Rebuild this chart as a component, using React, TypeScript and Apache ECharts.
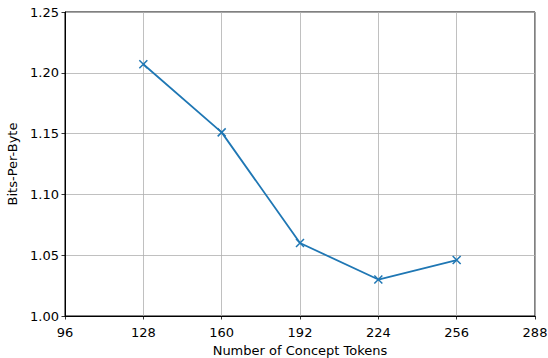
import React, { useEffect, useRef } from "react";
import * as echarts from "echarts";

const conceptTokens = [128, 160, 192, 224, 256];
const bitsPerByte = [1.207, 1.151, 1.060, 1.030, 1.046];
const xTicks = { min: 96, max: 288, interval: 32 };
const yTicks = { min: 1.0, max: 1.25, interval: 0.05 };
const xLabel = "Number of Concept Tokens";
const yLabel = "Bits-Per-Byte";

export default function App() {
  const ref = useRef<HTMLDivElement>(null);
  useEffect(() => {
    if (!ref.current) return;
    const chart = echarts.init(ref.current, null, { renderer: "svg" });
    const font = "DejaVu Sans";
    const fs = 13;
    chart.setOption({
      animation: false,
      backgroundColor: "#ffffff",
      grid: {
        left: 65,
        top: 12,
        right: 13,
        bottom: 42,
        containLabel: false,
        outerBoundsMode: "none",
        show: true,
        borderColor: "#000000",
        borderWidth: 1,
        backgroundColor: "transparent",
      },
      xAxis: {
        type: "value",
        min: xTicks.min,
        max: xTicks.max,
        interval: xTicks.interval,
        name: xLabel,
        nameLocation: "middle",
        nameGap: 26,
        nameTextStyle: { fontFamily: font, fontSize: fs, color: "#000" },
        axisLine: { show: true, onZero: false, lineStyle: { color: "#000", width: 1 } },
        axisTick: { show: true, inside: false, length: 3.5, lineStyle: { color: "#000", width: 0.8 } },
        axisLabel: { fontFamily: font, fontSize: fs, color: "#000", margin: 10 },
        splitLine: { show: true, lineStyle: { color: "#b0b0b0", width: 0.8 } },
      },
      yAxis: {
        type: "value",
        min: yTicks.min,
        max: yTicks.max,
        interval: yTicks.interval,
        name: yLabel,
        nameLocation: "middle",
        nameGap: 43,
        nameRotate: 90,
        nameTextStyle: { fontFamily: font, fontSize: fs, color: "#000" },
        axisLine: { show: true, lineStyle: { color: "#000", width: 1 } },
        axisTick: { show: true, inside: false, length: 3.5, lineStyle: { color: "#000", width: 0.8 } },
        axisLabel: {
          fontFamily: font,
          fontSize: fs,
          color: "#000",
          margin: 6,
          formatter: (v: number) => v.toFixed(2),
        },
        splitLine: { show: true, lineStyle: { color: "#b0b0b0", width: 0.8 } },
      },
      series: [
        {
          type: "line",
          data: conceptTokens.map((x, i) => [x, bitsPerByte[i]]),
          symbol: "path://M0,0L10,10M10,0L0,10",
          symbolSize: 8,
          showSymbol: true,
          lineStyle: { color: "#1f77b4", width: 1.8 },
          itemStyle: { color: "#1f77b4", borderColor: "#1f77b4", borderWidth: 1.5 },
          z: 3,
        },
      ],
    });
    return () => chart.dispose();
  }, []);
  return <div ref={ref} style={{ width: 548, height: 358, position: "absolute", left: 0, top: 0 }} />;
}
